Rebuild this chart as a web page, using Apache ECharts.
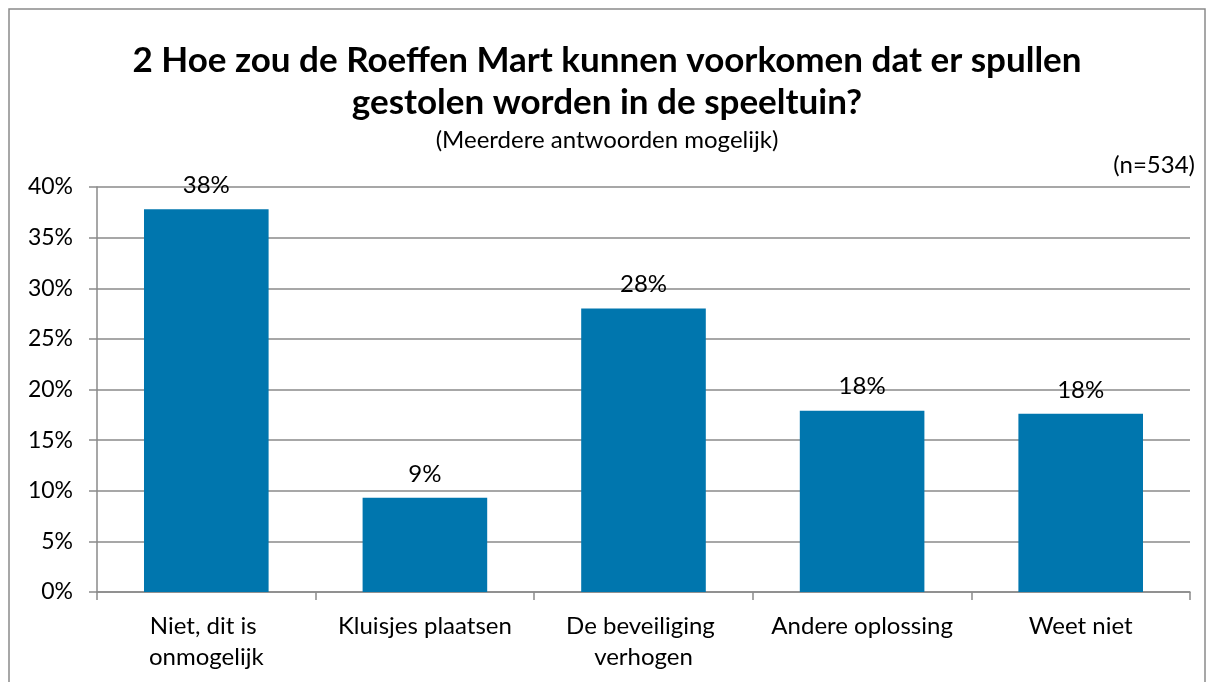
<!DOCTYPE html>
<html>
<head>
<meta charset="utf-8">
<title>Roeffen Mart</title>
<script src="https://cdn.jsdelivr.net/npm/echarts@6/dist/echarts.min.js"></script>
<style>
  html, body { margin: 0; padding: 0; background: #fff; }
  #chart { width: 1214px; height: 682px; }
</style>
</head>
<body>
<div id="chart"></div>
<script>
var categories = ['Niet, dit is onmogelijk', 'Kluisjes plaatsen', 'De beveiliging verhogen', 'Andere oplossing', 'Weet niet'];
var percentages = [37.8, 9.3, 28.0, 17.9, 17.6];
var yTicks = [0, 5, 10, 15, 20, 25, 30, 35, 40];

var titleText = '2 Hoe zou de Roeffen Mart kunnen voorkomen dat er spullen\ngestolen worden in de speeltuin?';
var subText = '(Meerdere antwoorden mogelijk)';
var sampleText = '(n=534)';

var font = 'Lato, "Open Sans", sans-serif';
var gridColor = '#8a8a8a';

var chart = echarts.init(document.getElementById('chart'));

chart.setOption({
	animation: false,
	title: [{
		text: titleText,
		left: 'center',
		top: 35,
		textStyle: { fontFamily: font, fontSize: 35, fontWeight: 'bold', color: '#000', lineHeight: 42 }
	}, {
		text: subText,
		left: 'center',
		top: 123,
		textStyle: { fontFamily: font, fontSize: 24, fontWeight: 'normal', color: '#000' }
	}, {
		text: sampleText,
		right: 14,
		top: 148,
		textStyle: { fontFamily: font, fontSize: 24, fontWeight: 'normal', color: '#000' }
	}],
	graphic: [{
		type: 'rect',
		shape: { x: 9, y: 9, width: 1196, height: 690 },
		style: { fill: 'none', stroke: '#8a8a8a', lineWidth: 1.5 },
		silent: true
	}],
	grid: { left: 97, right: 24, top: 187, bottom: 90 },
	xAxis: {
		type: 'category',
		data: categories,
		axisLine: { lineStyle: { color: gridColor, width: 1.5 } },
		axisTick: { show: true, length: 8, alignWithLabel: false, lineStyle: { color: gridColor, width: 1.5 } },
		axisLabel: {
			interval: 0,
			margin: 19,
			width: 200,
			overflow: 'break',
			lineHeight: 31,
			fontFamily: font,
			fontSize: 24,
			color: '#000'
		}
	},
	yAxis: {
		type: 'value',
		min: yTicks[0],
		max: yTicks[yTicks.length - 1],
		interval: yTicks[1] - yTicks[0],
		axisLine: { show: true, lineStyle: { color: gridColor, width: 1.5 } },
		axisTick: { show: true, length: 8, lineStyle: { color: gridColor, width: 1.5 } },
		splitLine: { show: true, lineStyle: { color: gridColor, width: 1.5 } },
		axisLabel: {
			margin: 24,
			fontFamily: font,
			fontSize: 23,
			color: '#000',
			formatter: function (v) { return v + '%'; }
		}
	},
	series: [{
		type: 'bar',
		data: percentages,
		barWidth: '57%',
		itemStyle: { color: '#0076ae' },
		label: {
			show: true,
			position: 'top',
			distance: 12,
			fontFamily: font,
			fontSize: 24,
			color: '#000',
			formatter: function (p) { return Math.round(p.value) + '%'; }
		}
	}]
});
</script>
</body>
</html>
